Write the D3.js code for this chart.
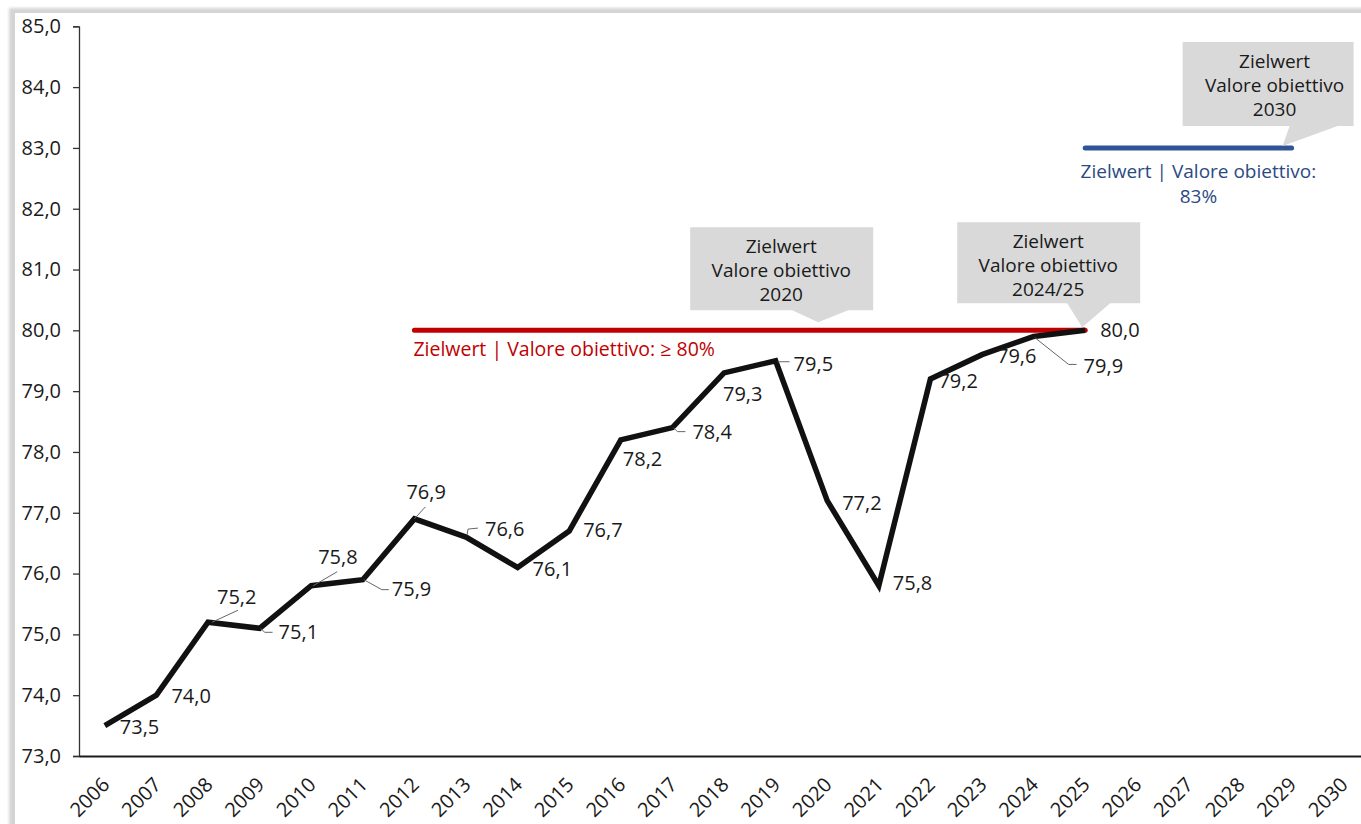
<!DOCTYPE html>
<html>
<head>
<meta charset="utf-8">
<script src="https://cdn.jsdelivr.net/npm/d3@7"></script>
<style>
  body { margin: 0; background: #fff; }
  svg { display: block; font-family: "Open Sans", sans-serif; }
</style>
</head>
<body>
<svg width="1361" height="824"></svg>
<script>
// categories (x axis)
var years = ["2006", "2007", "2008", "2009", "2010", "2011", "2012", "2013", "2014", "2015",
             "2016", "2017", "2018", "2019", "2020", "2021", "2022", "2023", "2024", "2025",
             "2026", "2027", "2028", "2029", "2030"];
// observed series 2006-2025
var obsYears = ["2006", "2007", "2008", "2009", "2010", "2011", "2012", "2013", "2014", "2015",
                "2016", "2017", "2018", "2019", "2020", "2021", "2022", "2023", "2024", "2025"];
var rate = [73.5, 74.0, 75.2, 75.1, 75.8, 75.9, 76.9, 76.6, 76.1, 76.7,
            78.2, 78.4, 79.3, 79.5, 77.2, 75.8, 79.2, 79.6, 79.9, 80.0];
var yTicks = [73, 74, 75, 76, 77, 78, 79, 80, 81, 82, 83, 84, 85];

// target lines
var target2020 = { from: "2012", to: "2025", value: 80, text: ["Zielwert | Valore obiettivo: \u2265 80%"] };
var target2030 = { from: "2025", to: "2029", value: 83, text: ["Zielwert | Valore obiettivo:", "83%"] };

// callouts
var calloutTitles = [
    ["Zielwert", "Valore obiettivo", "2020"],
    ["Zielwert", "Valore obiettivo", "2024/25"],
    ["Zielwert", "Valore obiettivo", "2030"]
];
var calloutAnchors = [{ year: "2020", value: 80 }, { year: "2025", value: 80 }, { year: "2029", value: 83 }];

// layout of the value labels: text offset and optional leader line (relative to point)
var labelLayout = [
    { dx: 15, dy: 8 }, { dx: 15, dy: 8 },
    { dx: 9, dy: -18, lead: [[4, 0], [30, -12]] },
    { dx: 19, dy: 11, lead: [[1, 0], [5, 4], [13, 4]] },
    { dx: 7, dy: -22, lead: [[2, 0], [26, -14]] },
    { dx: 29, dy: 16, lead: [[1, 0], [19, 10], [26, 10]] },
    { dx: -8, dy: -20, lead: [[0, 0], [11, -12]] },
    { dx: 19, dy: -1, lead: [[1, -2], [2, -8], [12, -9]] },
    { dx: 15, dy: 9 }, { dx: 14, dy: 6 }, { dx: 2, dy: 26 },
    { dx: 20, dy: 11, lead: [[1, 0], [5, 4], [13, 4]] },
    { dx: -1, dy: 28 },
    { dx: 18, dy: 10, lead: [[2, 1], [14, 1]] },
    { dx: 15, dy: 9 }, { dx: 14, dy: 4 }, { dx: 8, dy: 9 }, { dx: 15, dy: 8 },
    { dx: 50, dy: 37, lead: [[1, 1], [35, 28], [43, 28]] },
    { dx: 15, dy: 7 }
];
// callout boxes relative to the pointer tip
var calloutBoxes = [
    { tx: -9, ty: -8, l: -128, r: 55, t: -95, b: -12, p0: -26, p1: 30, cx: -37 },
    { tx: -3, ty: -3, l: -125, r: 58, t: -105, b: -24, p0: -15, p1: 28, cx: -34 },
    { tx: -9, ty: -2, l: -100, r: 71, t: -104, b: -20, p0: 7, p1: 55, cx: -8 }
];

var svg = d3.select("svg");
var locale = d3.formatLocale({ decimal: ",", thousands: ".", grouping: [3], currency: ["", "\u20ac"] });
var fmt = locale.format(".1f");

var x = d3.scaleBand().domain(years).range([79, 79 + 25 * 51.6]).padding(0);
var y = d3.scaleLinear().domain([73, 85]).range([756, 26.3]);
function cx(yr) { return x(yr) + x.bandwidth() / 2; }

// frame with soft shadow
var defs = svg.append("defs");
defs.append("filter").attr("id", "blur").append("feGaussianBlur").attr("stdDeviation", 1.5);
svg.append("rect").attr("x", 9).attr("y", 8).attr("width", 1400).attr("height", 900)
    .attr("fill", "#d4d4d4").attr("filter", "url(#blur)");
svg.append("rect").attr("x", 15).attr("y", 13).attr("width", 1400).attr("height", 900).attr("fill", "#fff");

// y axis
var yAxis = svg.append("g").attr("transform", "translate(79,0)")
    .call(d3.axisLeft(y).tickValues(yTicks).tickSize(6).tickPadding(12).tickFormat(fmt));
yAxis.select(".domain").attr("stroke", "#333").attr("stroke-width", 1.3);
yAxis.selectAll(".tick line").attr("stroke", "#333").attr("stroke-width", 1.3);
yAxis.selectAll("text").attr("font-size", 20).attr("fill", "#1a1a1a").attr("font-family", "Open Sans");

// x axis
var xAxis = svg.append("g").attr("transform", "translate(0,756)")
    .call(d3.axisBottom(x).tickSize(0).tickSizeOuter(0));
xAxis.select(".domain").attr("stroke", "#1a1a1a").attr("stroke-width", 2);
xAxis.selectAll("text")
    .attr("y", 0).attr("dy", 0).attr("x", 0)
    .attr("transform", "translate(6,30) rotate(-45)")
    .attr("text-anchor", "end")
    .attr("font-size", 20).attr("fill", "#1a1a1a").attr("font-family", "Open Sans");

// target lines
svg.append("line")
    .attr("x1", cx(target2020.from)).attr("x2", cx(target2020.to))
    .attr("y1", y(target2020.value)).attr("y2", y(target2020.value))
    .attr("stroke", "#c00000").attr("stroke-width", 5).attr("stroke-linecap", "round");
svg.append("text")
    .attr("x", cx(target2020.from) - 1).attr("y", y(target2020.value) + 26)
    .attr("font-size", 19.5).attr("fill", "#c00000")
    .text(target2020.text[0]);

svg.append("line")
    .attr("x1", cx(target2030.from)).attr("x2", cx(target2030.to))
    .attr("y1", y(target2030.value)).attr("y2", y(target2030.value))
    .attr("stroke", "#2f5597").attr("stroke-width", 5).attr("stroke-linecap", "round");
svg.append("text")
    .attr("text-anchor", "middle")
    .attr("font-size", 19).attr("fill", "#2c4a82")
    .selectAll("tspan").data(target2030.text).enter().append("tspan")
    .attr("x", (cx(target2030.from) + cx(target2030.to)) / 2 + 10)
    .attr("y", function (d, i) { return y(target2030.value) + 30 + i * 25; })
    .text(function (d) { return d; });

// callouts
calloutAnchors.forEach(function (a, i) {
    var c = calloutBoxes[i];
    var tx = cx(a.year) + c.tx, ty = y(a.value) + c.ty;
    var pts = [
        [tx + c.l, ty + c.t], [tx + c.r, ty + c.t], [tx + c.r, ty + c.b],
        [tx + c.p1, ty + c.b], [tx, ty], [tx + c.p0, ty + c.b], [tx + c.l, ty + c.b]
    ];
    svg.append("path").attr("d", d3.line()(pts) + "Z").attr("fill", "#d9d9d9");
    svg.append("text")
        .attr("text-anchor", "middle").attr("font-size", 19).attr("fill", "#1a1a1a")
        .selectAll("tspan").data(calloutTitles[i]).enter().append("tspan")
        .attr("x", tx + c.cx)
        .attr("y", function (d, j) { return ty + c.t + 26 + j * 24; })
        .text(function (d) { return d; });
});

// main series
var pts = obsYears.map(function (yr, i) { return [cx(yr), y(rate[i])]; });
svg.append("path")
    .attr("d", d3.line()(pts))
    .attr("fill", "none").attr("stroke", "#111").attr("stroke-width", 5.5)
    .attr("stroke-linejoin", "miter").attr("stroke-linecap", "butt");

// leader lines + value labels
var labels = svg.append("g");
pts.forEach(function (p, i) {
    var L = labelLayout[i];
    if (L.lead) {
        labels.append("path")
            .attr("d", d3.line()(L.lead.map(function (o) { return [p[0] + o[0], p[1] + o[1]]; })))
            .attr("fill", "none").attr("stroke", "#666").attr("stroke-width", 1);
    }
    labels.append("text")
        .attr("x", p[0] + L.dx).attr("y", p[1] + L.dy)
        .attr("font-size", 20).attr("fill", "#1a1a1a")
        .text(fmt(rate[i]));
});
</script>
</body>
</html>
